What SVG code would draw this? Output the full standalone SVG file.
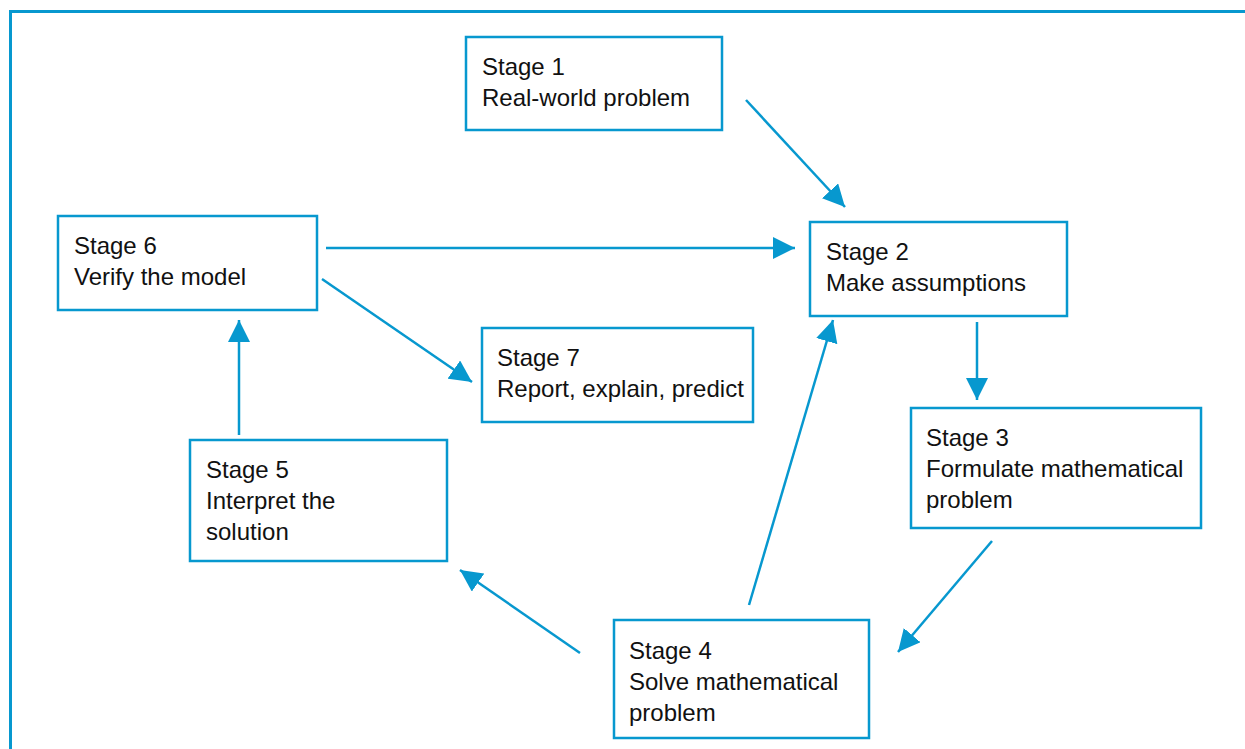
<svg xmlns="http://www.w3.org/2000/svg" width="1245" height="749" viewBox="0 0 1245 749">
<style>
.box{fill:#fff;stroke:#0798cf;stroke-width:2.5}
.t{font-family:"Liberation Sans",Arial,sans-serif;font-size:24px;fill:#111}
.c{stroke:#0798cf;stroke-width:2.5;fill:none;marker-end:url(#ah)}
</style>
<defs>
<marker id="ah" markerUnits="userSpaceOnUse" markerWidth="24" markerHeight="22" refX="22" refY="11" orient="auto" viewBox="0 0 24 22">
<path d="M0,0 L22,11 L0,22 Z" fill="#0798cf"/>
</marker>
</defs>
<rect x="0" y="0" width="1245" height="749" fill="#fff"/>
<path d="M10.5,749 V11.5 H1245" fill="none" stroke="#0798cf" stroke-width="3"/>
<g id="connectors">
<line class="c" x1="746" y1="100" x2="845" y2="207"/>
<line class="c" x1="326" y1="248" x2="795" y2="248"/>
<line class="c" x1="322" y1="279" x2="472" y2="382"/>
<line class="c" x1="977" y1="322" x2="977" y2="400"/>
<line class="c" x1="992" y1="541" x2="898" y2="652"/>
<line class="c" x1="749" y1="605" x2="833" y2="320"/>
<line class="c" x1="580" y1="653" x2="460" y2="570"/>
<line class="c" x1="239" y1="435" x2="239" y2="320"/>
</g>
<g id="stage1"><rect class="box" x="466" y="37" width="256" height="93"/><text class="t" x="482" y="75">Stage 1</text><text class="t" x="482" y="106">Real-world problem</text></g>
<g id="stage2"><rect class="box" x="810" y="222" width="257" height="94"/><text class="t" x="826" y="260">Stage 2</text><text class="t" x="826" y="291">Make assumptions</text></g>
<g id="stage3"><rect class="box" x="911" y="408" width="290" height="120"/><text class="t" x="926" y="446">Stage 3</text><text class="t" x="926" y="477">Formulate mathematical</text><text class="t" x="926" y="508">problem</text></g>
<g id="stage4"><rect class="box" x="614" y="620" width="255" height="118"/><text class="t" x="629" y="659">Stage 4</text><text class="t" x="629" y="690">Solve mathematical</text><text class="t" x="629" y="721">problem</text></g>
<g id="stage5"><rect class="box" x="190" y="440" width="257" height="121"/><text class="t" x="206" y="478">Stage 5</text><text class="t" x="206" y="509">Interpret the</text><text class="t" x="206" y="540">solution</text></g>
<g id="stage6"><rect class="box" x="58" y="216" width="259" height="94"/><text class="t" x="74" y="254">Stage 6</text><text class="t" x="74" y="285">Verify the model</text></g>
<g id="stage7"><rect class="box" x="482" y="328" width="271" height="94"/><text class="t" x="497" y="366">Stage 7</text><text class="t" x="497" y="397">Report, explain, predict</text></g>
</svg>
